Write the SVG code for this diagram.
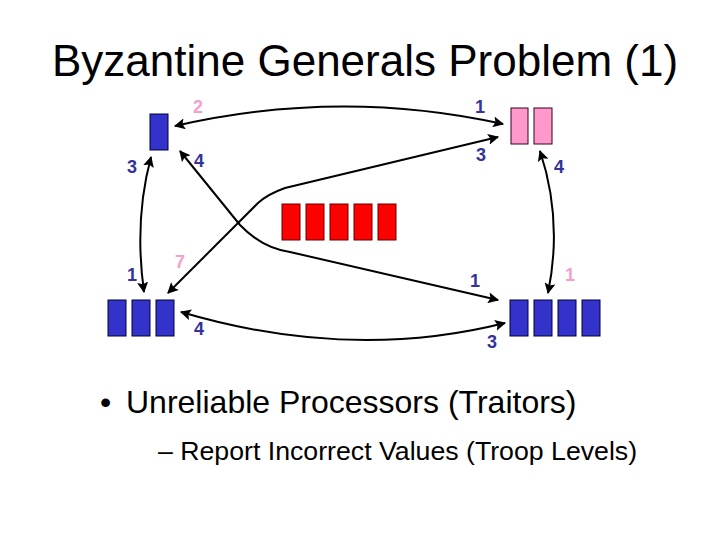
<svg xmlns="http://www.w3.org/2000/svg" width="720" height="540" viewBox="0 0 720 540">
<style>
text{font-family:"Liberation Sans",Arial,sans-serif}
.blue{fill:#3333cc;stroke:#000033;stroke-width:1}
.red{fill:#ff0000;stroke:#660000;stroke-width:1}
.pink{fill:#ff99cc;stroke:#330022;stroke-width:1}
.lb{fill:#333399;font-size:18px;font-weight:bold;text-anchor:middle}
.lp{fill:#f4a0cc;font-size:18px;font-weight:bold;text-anchor:middle}
.c{fill:none;stroke:#000;stroke-width:2;marker-start:url(#ah);marker-end:url(#ah)}
</style>
<defs>
<marker id="ah" viewBox="0 0 10 10" refX="9" refY="5" markerWidth="5.5" markerHeight="5.5" orient="auto-start-reverse" markerUnits="strokeWidth">
<path d="M0,0 L10,5 L0,10 L2,5 z" fill="#000"/>
</marker>
</defs>
<rect width="720" height="540" fill="#fff"/>
<text x="52" y="76" font-size="44" fill="#000">Byzantine Generals Problem (1)</text>
<g id="connectors">
<path class="c" d="M175,126 Q340,88 503,124"/>
<path class="c" d="M180,151 L240,225 Q262,248 290,252 L498,300"/>
<path class="c" d="M168,293 L258,203 Q268,194 285,188 L498,137"/>
<path class="c" d="M151,157 Q134,220 144,292"/>
<path class="c" d="M540,151 Q563,220 548,293"/>
<path class="c" d="M181,312 Q350,362 505,323"/>
</g>
<g id="general-topleft">
<rect class="blue" x="150" y="114" width="18" height="36"/>
</g>
<g id="general-topright">
<rect class="pink" x="511" y="108" width="17" height="36"/>
<rect class="pink" x="534" y="108" width="18" height="36"/>
</g>
<g id="traitors">
<rect class="red" x="282" y="204" width="18" height="36"/>
<rect class="red" x="306" y="204" width="18" height="36"/>
<rect class="red" x="330" y="204" width="18" height="36"/>
<rect class="red" x="354" y="204" width="18" height="36"/>
<rect class="red" x="378" y="204" width="18" height="36"/>
</g>
<g id="general-bottomleft">
<rect class="blue" x="108" y="300" width="18" height="36"/>
<rect class="blue" x="132" y="300" width="18" height="36"/>
<rect class="blue" x="156" y="300" width="18" height="36"/>
</g>
<g id="general-bottomright">
<rect class="blue" x="510" y="300" width="18" height="36"/>
<rect class="blue" x="534" y="300" width="18" height="36"/>
<rect class="blue" x="558" y="300" width="18" height="36"/>
<rect class="blue" x="582" y="300" width="18" height="36"/>
</g>
<g id="labels">
<text class="lp" x="198" y="113">2</text>
<text class="lb" x="480" y="113">1</text>
<text class="lb" x="132" y="173">3</text>
<text class="lb" x="199" y="167">4</text>
<text class="lb" x="481" y="161">3</text>
<text class="lb" x="559" y="173">4</text>
<text class="lb" x="132" y="281">1</text>
<text class="lp" x="180" y="268">7</text>
<text class="lb" x="199" y="335">4</text>
<text class="lb" x="475" y="287">1</text>
<text class="lp" x="570" y="281">1</text>
<text class="lb" x="492" y="348">3</text>
</g>
<g id="bullets">
<text x="100" y="413" font-size="32" fill="#000">•</text>
<text x="126" y="413" font-size="32" fill="#000">Unreliable Processors (Traitors)</text>
<text x="158" y="460" font-size="26.7" fill="#000">– Report Incorrect Values (Troop Levels)</text>
</g>
</svg>
